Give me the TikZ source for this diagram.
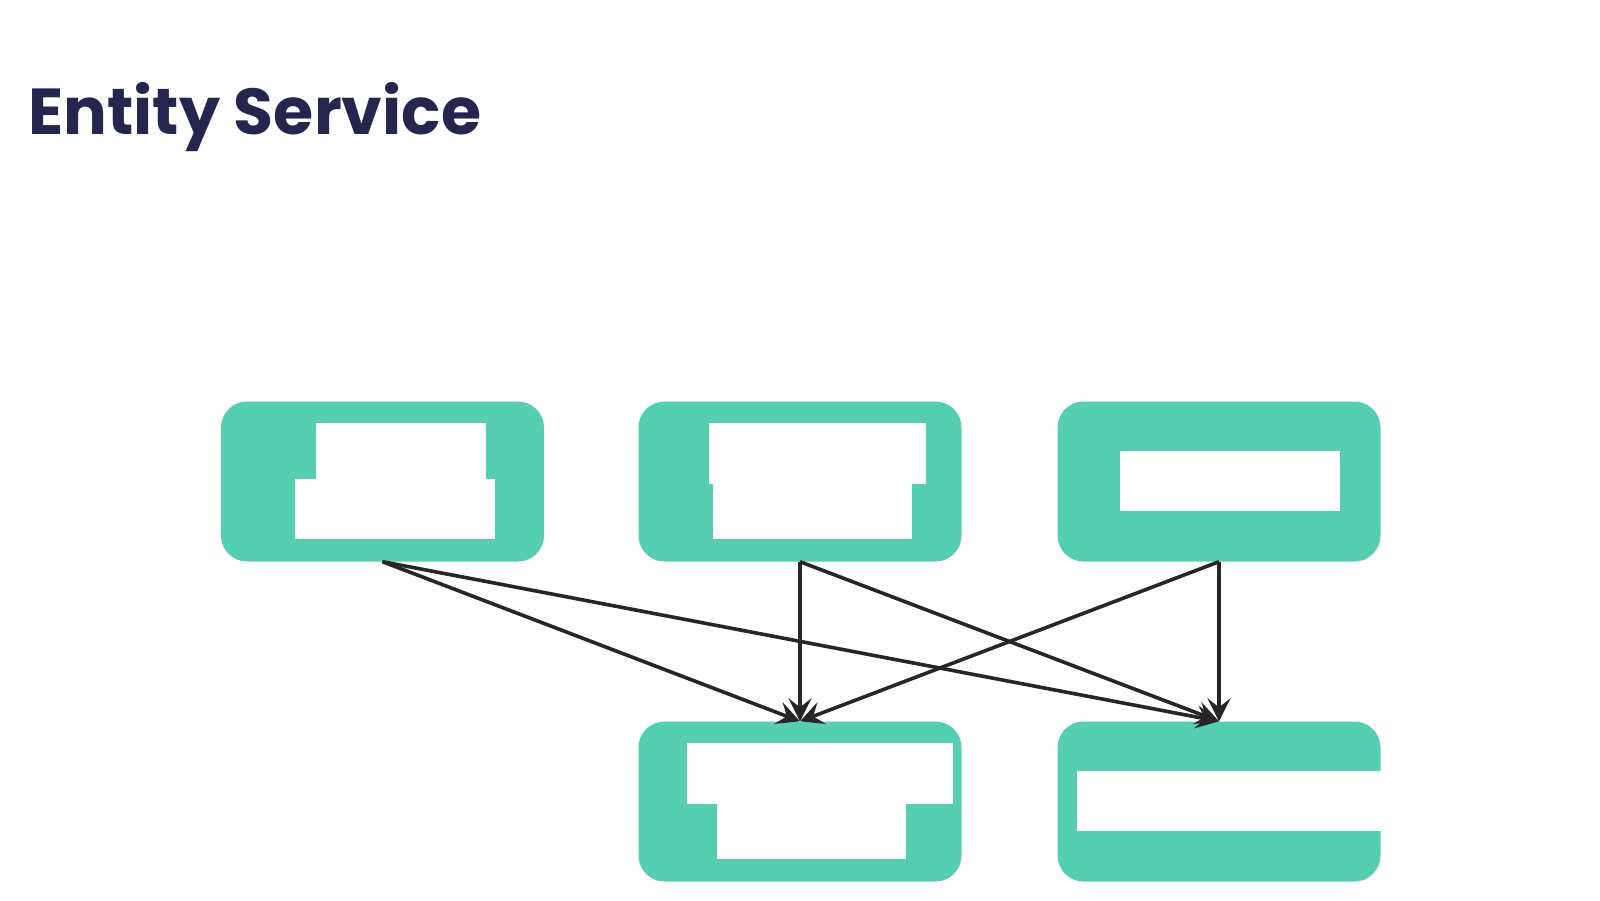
\documentclass[tikz,border=0pt]{standalone}
\usepackage{fontspec}
\setmainfont{Poppins}
\usetikzlibrary{arrows.meta}
\definecolor{teal}{HTML}{55CFB0}
\definecolor{navy}{HTML}{25264D}
\definecolor{ink}{HTML}{262626}
\begin{document}
\begin{tikzpicture}[x=1pt,y=-1pt,
  entity/.style={fill=teal, rounded corners=26pt, inner sep=0pt, minimum width=323pt, minimum height=160pt},
  blank/.style={fill=white},
  link/.style={draw=ink, line width=3.6pt, -{Stealth[length=23pt, width=23pt, inset=9pt]}}]

\useasboundingbox (0,0) rectangle (1600,900);

\node[anchor=base west, text=navy, font=\fontsize{65}{72}\selectfont\bfseries, inner sep=0pt] (title) at (28,134) {Entity Service};

\node[entity] (srcA) at (382.5,481.5) {};
\node[entity] (srcB) at (800,481.5) {};
\node[entity] (srcC) at (1219,481.5) {};
\node[entity] (dstA) at (800,801.5) {};
\node[entity] (dstB) at (1219,801.5) {};

\fill[blank] (316,423.3) rectangle (486.3,480);
\fill[blank] (295,479) rectangle (495.3,539);

\fill[blank] (709,423.3) rectangle (925.7,484);
\fill[blank] (712.7,483) rectangle (912,539);

\fill[blank] (1120,451) rectangle (1340,511);

\fill[blank] (686.7,743.3) rectangle (952.7,804);
\fill[blank] (717.3,803) rectangle (905.7,859);

\fill[blank] (1077.3,771) rectangle (1380.7,831);

\draw[link] (srcA.south) -- (dstA.north);
\draw[link] (srcA.south) -- (dstB.north);
\draw[link] (srcB.south) -- (dstA.north);
\draw[link] (srcB.south) -- (dstB.north);
\draw[link] (srcC.south) -- (dstA.north);
\draw[link] (srcC.south) -- (dstB.north);

\end{tikzpicture}
\end{document}
